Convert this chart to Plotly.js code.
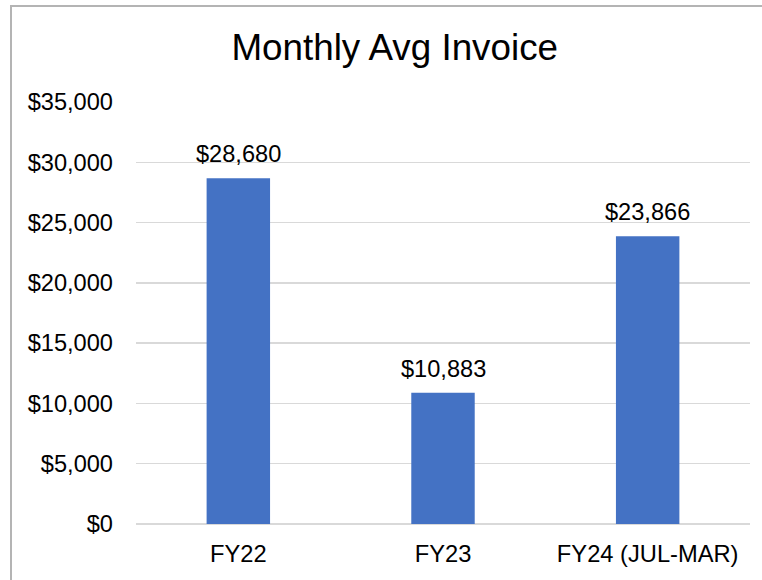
<!DOCTYPE html>
<html>
<head>
<meta charset="utf-8">
<script src="https://cdn.plot.ly/plotly-3.0.1.min.js"></script>
<style>
html,body{margin:0;padding:0;background:#fff;}
#chart{position:absolute;left:0;top:0;width:762px;height:580px;}
#frame{position:absolute;left:10px;top:5px;width:800px;height:700px;border:2px solid #b4b4b4;pointer-events:none;}
</style>
</head>
<body>
<div id="chart"></div>
<div id="frame"></div>
<script>
const categories = ["FY22", "FY23", "FY24 (JUL-MAR)"];
const values = [28680, 10883, 23866];
const labels = ["$28,680", "$10,883", "$23,866"];
const tickVals = [0, 5000, 10000, 15000, 20000, 25000, 30000, 35000];
const tickText = ["$0", "$5,000", "$10,000", "$15,000", "$20,000", "$25,000", "$30,000", "$35,000"];

const font = "Liberation Sans, Arial, sans-serif";

const trace = {
  type: "bar",
  x: categories,
  y: values,
  marker: {color: "#4472C4"},
  width: 0.31,
  hoverinfo: "none"
};

const annotations = categories.map((c, i) => ({
  x: c, y: values[i], xref: "x", yref: "y",
  text: labels[i], showarrow: false,
  yanchor: "bottom", yshift: 9,
  font: {family: font, size: 23.6, color: "#000"}
}));

const layout = {
  width: 762, height: 580,
  margin: {l: 136, r: 12, t: 102, b: 56},
  paper_bgcolor: "#fff", plot_bgcolor: "#fff",
  showlegend: false,
  title: {text: "Monthly Avg Invoice", x: 0.518, xanchor: "center", y: 0.918, yanchor: "middle",
          font: {family: font, size: 36.8, color: "#000"}},
  xaxis: {
    type: "category", showgrid: false, zeroline: false,
    showline: false, ticks: "", ticklabelstandoff: 13,
    tickfont: {family: font, size: 23.7, color: "#000"}
  },
  yaxis: {
    range: [0, 35000], tickvals: tickVals, ticktext: tickText,
    showgrid: true, gridcolor: "#d9d9d9", gridwidth: 1.5,
    zeroline: true, zerolinecolor: "#d9d9d9", zerolinewidth: 1.5,
    showline: false, ticks: "", ticklabelstandoff: 22,
    tickfont: {family: font, size: 23.6, color: "#000"}
  },
  annotations: annotations
};

Plotly.newPlot("chart", [trace], layout, {staticPlot: true, displayModeBar: false});
</script>
</body>
</html>
